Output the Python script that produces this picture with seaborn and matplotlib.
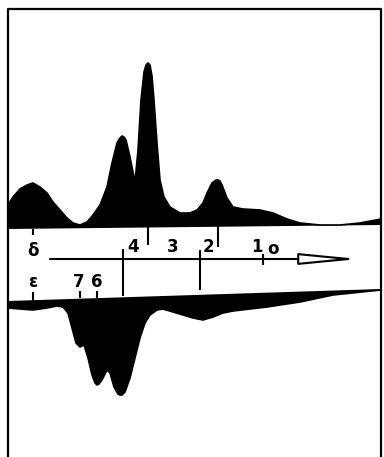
import numpy as np
import matplotlib
matplotlib.use("Agg")
import matplotlib.pyplot as plt
import seaborn as sns

# traced outline of the upper spectrum (position, level)
upper_x = [8, 13, 20, 27, 33, 40, 47, 53, 60, 67, 73, 80, 87, 93, 100, 107, 112, 117,
           120, 122, 124, 126, 130, 135, 138, 141, 144, 146, 148, 150, 152, 154, 157,
           160, 164, 170, 180, 190, 197, 203, 207, 212, 216, 218, 220, 222, 227, 233,
           243, 260, 273, 287, 300, 320, 340, 360, 381]
upper_y = [205, 197, 189, 185, 183, 187, 193, 202, 210, 218, 223, 225, 222, 215, 205,
           187, 163, 143, 138, 136, 137, 140, 157, 182, 150, 100, 72, 65, 63, 65, 76,
           100, 143, 180, 197, 207, 213, 213, 210, 203, 193, 183, 180, 180, 181, 185,
           198, 207, 209, 210, 213, 219, 223, 225, 225, 223, 219]
upper_base_x = [381, 8]
upper_base_y = [225, 229]

# traced outline of the lower spectrum
lower_x = [8, 20, 33, 47, 57, 63, 68, 72, 76, 80, 84, 88, 92, 95, 97, 99, 102, 107,
           110, 114, 118, 120, 122, 125, 130, 135, 140, 145, 150, 157, 163, 173, 183,
           193, 203, 213, 223, 233, 250, 267, 300, 333, 381]
lower_y = [308, 309, 310, 308, 306, 307, 313, 328, 343, 347, 345, 358, 375, 383, 385,
           384, 380, 370, 373, 387, 394, 395, 395, 392, 378, 358, 338, 323, 315, 310,
           309, 312, 315, 318, 320, 317, 313, 311, 309, 307, 302, 295, 290]
lower_base_x = [381, 8]
lower_base_y = [289, 301]

# scale marks: x, y top, y bottom
mark_x = [33, 123, 148, 200, 218, 263, 33, 80, 97]
mark_top = [229, 249, 226, 250, 226, 254, 292, 291, 291]
mark_bot = [235, 296, 245, 290, 247, 265, 301, 298, 298]

labels = ["δ", "4", "3", "2", "1", "o", "ε", "7", "6"]
label_x = [33, 133, 173, 208, 257, 273, 33, 79, 97]
label_y = [251, 247, 247, 247, 247, 249, 282, 282, 282]

sns.set_style("white")
fig = plt.figure(figsize=(3.84, 4.57), dpi=100)
ax = fig.add_axes([0, 0, 1, 1])

# filled spectra
ax.fill(upper_x + upper_base_x, upper_y + upper_base_y, color="black", lw=0)
sns.lineplot(x=upper_x, y=upper_y, sort=False, color="black", lw=1.2, ax=ax)
ax.fill(lower_x + lower_base_x, lower_y + lower_base_y, color="black", lw=0)
sns.lineplot(x=lower_x, y=lower_y, sort=False, color="black", lw=1.2, ax=ax)

# frame (open at the bottom)
ax.plot([8, 8, 381, 381], [457, 9, 9, 457], color="black", lw=1.6)

# scale marks and arrow
ax.vlines(mark_x, mark_top, mark_bot, color="black", lw=1.5)
ax.annotate("", xy=(359, 259), xytext=(50, 259),
            arrowprops=dict(arrowstyle="-|>,head_length=3.6,head_width=0.35",
                            fc="white", ec="black", lw=1.5, mutation_scale=10,
                            shrinkA=0, shrinkB=0))
for t, x, y in zip(labels, label_x, label_y):
    ax.text(x, y, t, ha="center", va="center", fontsize=12, color="black",
            fontweight="bold")

ax.set_xlim(0, 384)
ax.set_ylim(457, 0)
ax.axis("off")
fig.savefig("out.png", dpi=100, facecolor="white")
